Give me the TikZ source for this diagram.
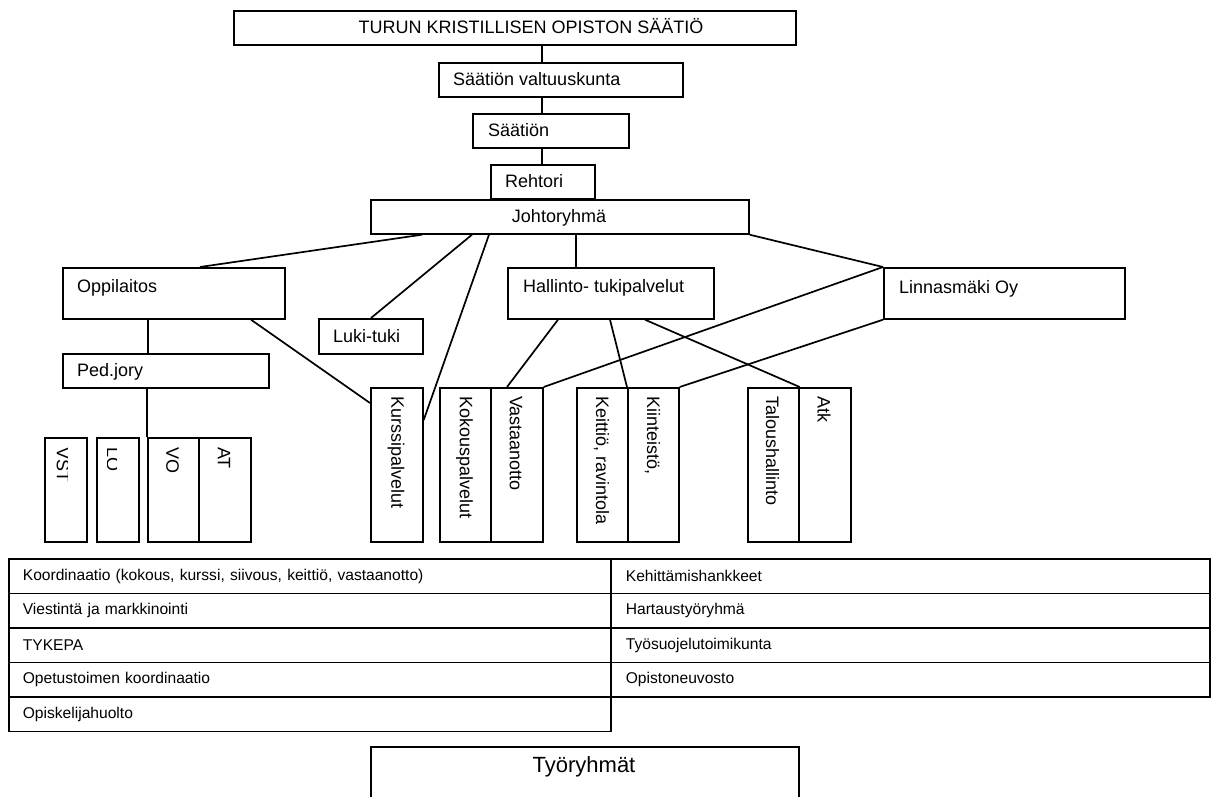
\documentclass[tikz,border=0pt]{standalone}
\usepackage{fontspec}
\setmainfont{Liberation Sans}
\newcommand\boxat[5]{\node[boxst, minimum width={#4-#2}, minimum height={#5-#3}] (#1) at (#2,#3) {};}
\begin{document}
\begin{tikzpicture}[x=1pt,y=-1pt,
  boxst/.style={draw, line width=1.7pt, inner sep=0pt, anchor=north west},
  lbl/.style={inner sep=0pt, font=\fontsize{18}{21}\selectfont},
  vlbl/.style={lbl, rotate=-90, anchor=west},
  cell/.style={draw, line width=1.7pt, inner sep=0pt, anchor=north west, minimum height=34.5pt, align=left, font=\fontsize{15.6}{18}\selectfont},
  conn/.style={line width=1.7pt}]
\useasboundingbox (0,0) rectangle (1215,796);
\clip (0,0) rectangle (1215,796);
\fill[white] (0,0) rectangle (1215,796);

% top chain
\boxat{top}{233}{10}{795}{44}
\node[lbl, anchor=base] (toptxt) at (531,33.5) {TURUN KRISTILLISEN OPISTON SÄÄTIÖ};
\boxat{valt}{438}{62}{682}{96}
\node[lbl, anchor=base west] (valttxt) at (453,85.5) {Säätiön valtuuskunta};
\boxat{saat}{472}{113}{628}{147}
\node[lbl, anchor=base west] (saattxt) at (488,136.5) {Säätiön};
\boxat{reh}{490}{164}{594}{198}
\node[lbl, anchor=base west] (rehtxt) at (505,187.5) {Rehtori};
\boxat{johto}{370}{199}{748}{233}
\node[lbl, anchor=base] (johtotxt) at (559,222.5) {Johtoryhmä};

% second level
\boxat{opp}{62}{267}{284}{318}
\node[lbl, anchor=base west] (opptxt) at (77,292) {Oppilaitos};
\boxat{luki}{318}{318}{422}{353}
\node[lbl, anchor=base west] (lukitxt) at (333,342) {Luki-tuki};
\boxat{ped}{62}{353}{268}{387}
\node[lbl, anchor=base west] (pedtxt) at (77,376) {Ped.jory};
\boxat{hall}{507}{267}{713}{318}
\node[lbl, anchor=base west] (halltxt) at (523,292) {Hallinto- tukipalvelut};
\boxat{linn}{883}{267}{1124}{318}
\node[lbl, anchor=base west] (linntxt) at (899,293) {Linnasmäki Oy};

% vertical boxes
\boxat{kurs}{370}{387}{422}{541}
\node[vlbl] (kurstxt) at (396,396) {Kurssipalvelut};
\boxat{kok}{439}{387}{490}{541}
\node[vlbl] (koktxt) at (464.5,396) {Kokouspalvelut};
\boxat{vast}{490}{387}{542}{541}
\node[vlbl] (vasttxt) at (516,396) {Vastaanotto};
\boxat{keit}{576}{387}{627}{541}
\node[vlbl] (keittxt) at (601.5,396) {Keittiö, ravintola};
\boxat{kiin}{627}{387}{678}{541}
\node[vlbl] (kiintxt) at (652.5,396) {Kiinteistö,};
\boxat{talo}{747}{387}{798}{541}
\node[vlbl] (talotxt) at (772.5,396) {Taloushallinto};
\boxat{atk}{798}{387}{850}{541}
\node[vlbl] (atktxt) at (824,396) {Atk};

\boxat{vst}{44}{437}{86}{541}
\begin{scope}
  \clip (44,437) rectangle (67,541);
  \node[vlbl] (vsttxt) at (63,447) {VST};
\end{scope}
\boxat{lo}{96}{437}{138}{541}
\begin{scope}
  \clip (107,437) rectangle (116,541);
  \node[vlbl] (lotxt) at (113,447) {LO};
\end{scope}
\boxat{vo}{147}{437}{198}{541}
\node[vlbl] (votxt) at (172.5,447) {VO};
\boxat{at}{198}{437}{250}{541}
\node[vlbl] (attxt) at (224,447) {AT};

% connectors
\draw[conn] (542,0 |- top.south) -- (542,0 |- valt.north);
\draw[conn] (542,0 |- valt.south) -- (542,0 |- saat.north);
\draw[conn] (542,0 |- saat.south) -- (542,0 |- reh.north);
\draw[conn] (422,0 |- johto.south) -- (200,0 |- opp.north);
\draw[conn] (472,0 |- johto.south) -- (371,0 |- luki.north);
\draw[conn] (489,0 |- johto.south) -- (kurs.east |- 0,420);
\draw[conn] (576,0 |- johto.south) -- (576,0 |- hall.north);
\draw[conn] (johto.south east) -- (linn.north west);
\draw[conn] (linn.north west) -- (vast.north east);
\draw[conn] (linn.south west) -- (kiin.north east);
\draw[conn] (558,0 |- hall.south) -- (507,0 |- vast.north);
\draw[conn] (610,0 |- hall.south) -- (kiin.north west);
\draw[conn] (645,0 |- hall.south) -- (talo.north east);
\draw[conn] (251,0 |- opp.south) -- (kurs.west |- 0,403);
\draw[conn] (148,0 |- opp.south) -- (148,0 |- ped.north);
\draw[conn] (vo.north west |- ped.south) -- (vo.north west);

% table
\node[cell, minimum width=602pt, text width=574pt] (l1) at (8,558) {Koordinaatio (kokous, kurssi, siivous, keittiö, vastaanotto)};
\node[cell, minimum width=602pt, text width=574pt] (l2) at (8,592.5) {Viestintä ja markkinointi};
\node[cell, minimum width=602pt, text width=574pt] (l3) at (8,627) {TYKEPA};
\node[cell, minimum width=602pt, text width=574pt] (l4) at (8,661.5) {Opetustoimen koordinaatio};
\node[cell, minimum width=602pt, text width=574pt] (l5) at (8,696) {Opiskelijahuolto};
\node[cell, minimum width=599pt, text width=569pt] (r1) at (610,558) {Kehittämishankkeet};
\node[cell, minimum width=599pt, text width=569pt] (r2) at (610,592.5) {Hartaustyöryhmä};
\node[cell, minimum width=599pt, text width=569pt] (r3) at (610,627) {Työsuojelutoimikunta};
\node[cell, minimum width=599pt, text width=569pt] (r4) at (610,661.5) {Opistoneuvosto};

% bottom box
\node[boxst, minimum width=428pt, minimum height=80pt] (tyo) at (370,746) {};
\node[lbl, font=\fontsize{22}{26}\selectfont] (tyotxt) at (584,767) {Työryhmät};
\end{tikzpicture}
\end{document}
